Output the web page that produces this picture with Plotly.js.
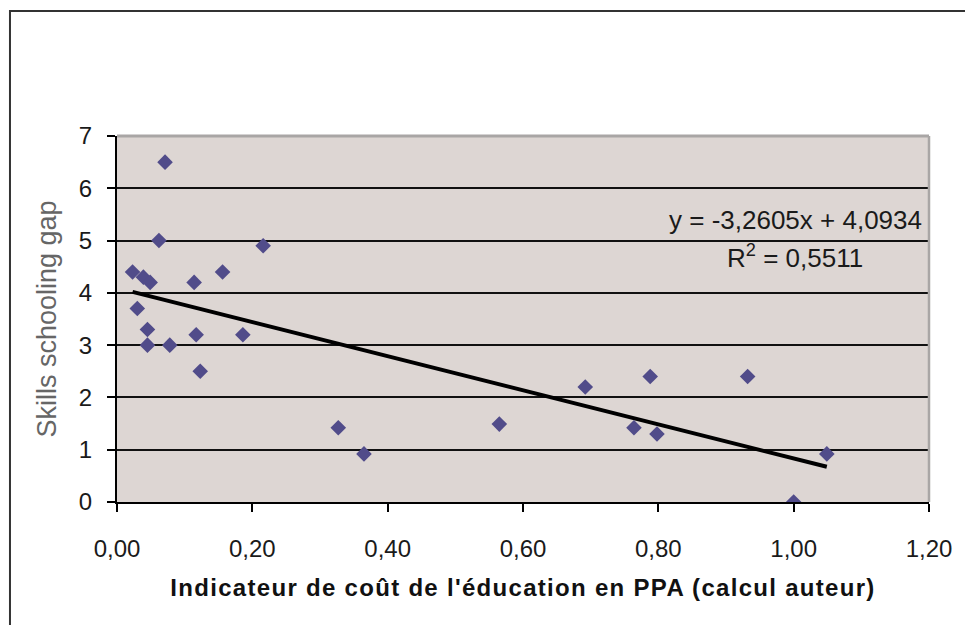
<!DOCTYPE html>
<html>
<head>
<meta charset="utf-8">
<script src="https://cdn.plot.ly/plotly-3.0.1.min.js"></script>
<style>
  html, body { margin: 0; padding: 0; background: #ffffff; }
  #chart { width: 965px; height: 625px; }
  .xtitle { letter-spacing: 1.3px; }
</style>
</head>
<body>
<div id="chart"></div>
<script>
// ---- data ----
const costIndicator = [0.071, 0.062, 0.216, 0.023, 0.039, 0.049, 0.114, 0.156, 0.030, 0.045,
                       0.045, 0.078, 0.117, 0.186, 0.123, 0.327, 0.365, 0.565, 0.692, 0.764,
                       0.798, 0.788, 0.932, 1.049, 1.000];
const schoolingGap = [6.5, 5.0, 4.9, 4.4, 4.3, 4.2, 4.2, 4.4, 3.7, 3.3,
                      3.0, 3.0, 3.2, 3.2, 2.5, 1.42, 0.92, 1.49, 2.2, 1.42,
                      1.3, 2.4, 2.4, 0.92, 0.0];
const trendSlope = -3.2605;
const trendIntercept = 4.0934;
const trendR2 = 0.5511;
const xTickVals = [0, 0.2, 0.4, 0.6, 0.8, 1.0, 1.2];
const yTickVals = [0, 1, 2, 3, 4, 5, 6, 7];
const xTitle = "Indicateur de coût de l'éducation en PPA (calcul auteur)";
const yTitle = "Skills schooling gap";
const eqText = "y = -3,2605x + 4,0934";
const r2Text = "R<sup>2</sup> = 0,5511";

// trend line endpoints computed from the regression equation
const xMin = Math.min(...costIndicator);
const xMax = Math.max(...costIndicator);
const trendX = [xMin, xMax];
const trendY = trendX.map(v => trendSlope * v + trendIntercept);

const FONT = "Liberation Sans, Arial, sans-serif";

const traces = [
  {
    x: trendX, y: trendY, type: 'scatter', mode: 'lines',
    line: { color: '#000000', width: 4 },
    hoverinfo: 'skip', showlegend: false
  },
  {
    x: costIndicator, y: schoolingGap, type: 'scatter', mode: 'markers',
    marker: { symbol: 'diamond', size: 12, color: '#514C8A', line: { width: 0 } },
    showlegend: false
  }
];

const layout = {
  width: 965, height: 625,
  margin: { l: 117, r: 36, t: 136, b: 123 },
  paper_bgcolor: '#ffffff',
  plot_bgcolor: '#DDD6D3',
  separators: ', ',
  font: { family: FONT, size: 24, color: '#1a1a1a' },
  showlegend: false,
  xaxis: {
    range: [0, 1.2], tickvals: xTickVals, tickformat: '.2f',
    showgrid: false, zeroline: false,
    showline: true, linecolor: '#000000', linewidth: 2,
    ticks: 'outside', ticklen: 8, tickwidth: 2, tickcolor: '#000000',
    ticklabelstandoff: 16,
    tickfont: { family: FONT, size: 24, color: '#1a1a1a' },
    title: { text: xTitle, font: { family: FONT, size: 24, color: '#111111', weight: 'bold' }, standoff: 18 }
  },
  yaxis: {
    range: [0, 7], tickvals: yTickVals, tickformat: 'd',
    showgrid: true, gridcolor: '#111111', gridwidth: 2,
    zeroline: false,
    showline: true, linecolor: '#000000', linewidth: 2,
    ticks: 'outside', ticklen: 8, tickwidth: 2, tickcolor: '#000000',
    ticklabelstandoff: 10,
    tickfont: { family: FONT, size: 24, color: '#1a1a1a' },
    title: { text: yTitle, font: { family: FONT, size: 27, color: '#666666' }, standoff: 14 }
  },
  annotations: [
    { x: 1.002, y: 5.39, xref: 'x', yref: 'y', text: eqText, showarrow: false,
      xanchor: 'center', yanchor: 'middle', font: { family: FONT, size: 26, color: '#1a1a1a' } },
    { x: 1.002, y: 4.70, xref: 'x', yref: 'y', text: r2Text, showarrow: false,
      xanchor: 'center', yanchor: 'middle', font: { family: FONT, size: 26, color: '#1a1a1a' } }
  ],
  shapes: [
    // outer chart frame (only left and top edges are visible in the reference)
    { type: 'rect', xref: 'paper', yref: 'paper', x0: -0.1318, x1: 2, y0: -2, y1: 1.3415,
      line: { color: '#333333', width: 2 }, fillcolor: 'rgba(0,0,0,0)', layer: 'above' },
    // light grey plot-area border on top and right
    { type: 'line', xref: 'paper', yref: 'paper', x0: 0, x1: 1, y0: 1, y1: 1,
      line: { color: '#A9A6A5', width: 3 }, layer: 'above' },
    { type: 'line', xref: 'paper', yref: 'paper', x0: 1, x1: 1, y0: 0, y1: 1,
      line: { color: '#A9A6A5', width: 2.5 }, layer: 'above' }
  ]
};

Plotly.newPlot('chart', traces, layout, { displayModeBar: false, staticPlot: true });
</script>
</body>
</html>
